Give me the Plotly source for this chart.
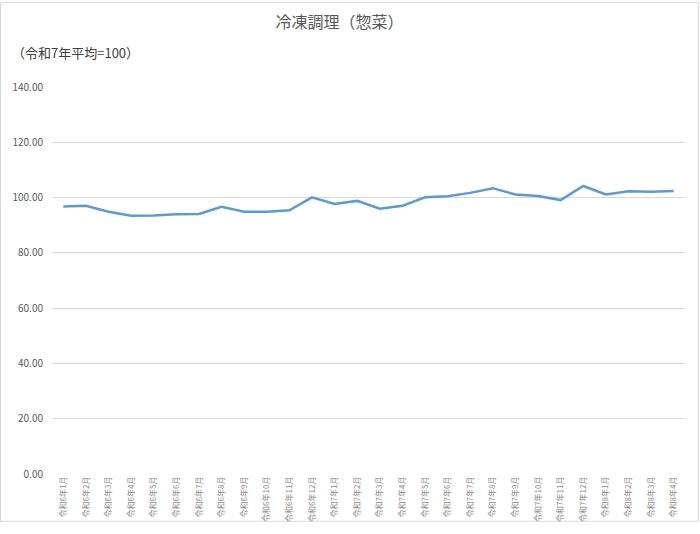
import plotly.graph_objects as go

# months 令和6年1月 .. 令和8年4月
months = ([f"令和6年{m}月" for m in range(1, 13)]
          + [f"令和7年{m}月" for m in range(1, 13)]
          + [f"令和8年{m}月" for m in range(1, 5)])
index_values = [96.8, 97.0, 94.9, 93.4, 93.5, 94.0, 94.1, 96.7, 94.9, 94.9,
                95.4, 100.1, 97.7, 98.8, 96.0, 97.0, 100.1, 100.5, 101.7, 103.4,
                101.1, 100.6, 99.1, 104.2, 101.1, 102.3, 102.1, 102.4]
y_ticks = [0, 20, 40, 60, 80, 100, 120, 140]

W, H = 700, 534
ml, mr, mt, mb = 52, 15, 87, 50
pw, ph = W - ml - mr, H - mt - mb

fig = go.Figure()
fig.add_trace(go.Scatter(
    x=list(range(len(months))), y=index_values, mode="lines",
    line=dict(color="#5B9BD5", width=2.5), hoverinfo="y",
))

font_name = "Noto Sans CJK JP"
fig.update_layout(
    width=W, height=H,
    margin=dict(l=ml, r=mr, t=mt, b=mb),
    paper_bgcolor="white", plot_bgcolor="white",
    font=dict(family=font_name, color="#595959"),
    showlegend=False,
    title=dict(text="冷凍調理（惣菜）", x=0.485, xanchor="center",
               y=1 - 22 / H, yanchor="middle",
               font=dict(size=16, color="#595959")),
    xaxis=dict(
        range=[-0.5, len(months) - 0.5],
        tickmode="array", tickvals=list(range(len(months))), ticktext=months,
        tickangle=-90, tickfont=dict(size=8, color="#8c8c8c"),
        showgrid=False, zeroline=False, showline=False, ticks="",
    ),
    yaxis=dict(
        range=[0, 140], tickvals=y_ticks, tickformat=".2f",
        tickfont=dict(size=10, color="#595959"),
        showgrid=True, gridcolor="#d9d9d9", gridwidth=1,
        zeroline=False, showline=False, ticks="", ticklabelstandoff=8,
    ),
)

fig.add_annotation(
    text="（令和7年平均=100）", xref="paper", yref="paper",
    x=-(ml - 10) / pw, y=1 + (mt - 52) / ph, xanchor="left", yanchor="middle",
    showarrow=False, font=dict(size=13, color="#404040"),
)

# outer chart border
fig.add_shape(
    type="rect", xref="paper", yref="paper",
    x0=-(ml - 0.5) / pw, x1=1 + (mr - 1.5) / pw,
    y0=-(mb - 1.5) / ph, y1=1 + (mt - 0.5) / ph,
    line=dict(color="#d9d9d9", width=1), layer="below",
)

page_fix = (
    "document.documentElement.style.overflow='hidden';"
    "document.body.style.margin='0';"
    "document.body.style.overflow='hidden';"
)
fig.write_html("out.html", config={"displayModeBar": False}, post_script=page_fix)
